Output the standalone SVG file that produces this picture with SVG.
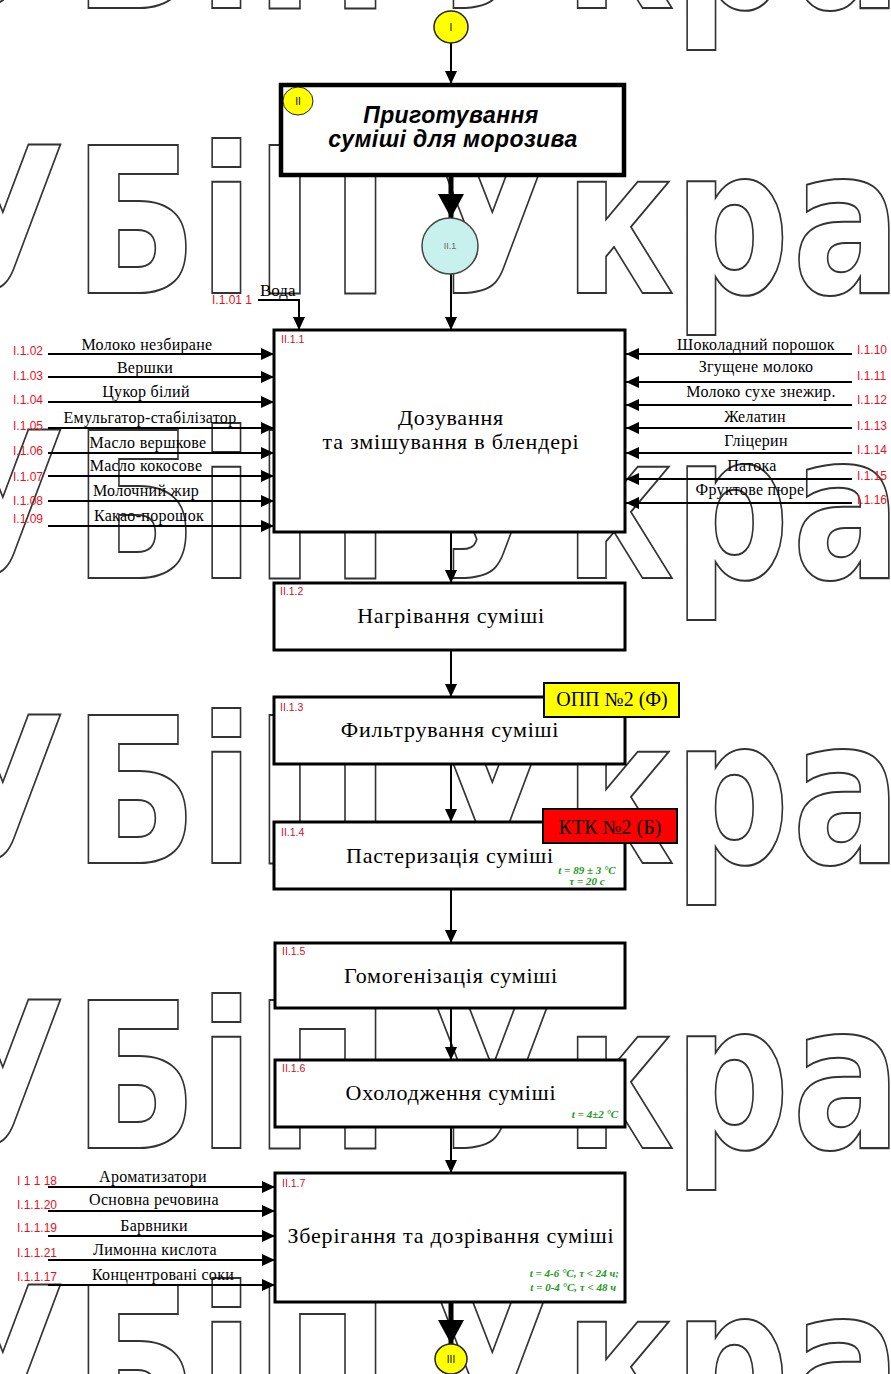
<svg xmlns="http://www.w3.org/2000/svg" xmlns:xlink="http://www.w3.org/1999/xlink" width="891" height="1374" viewBox="0 0 891 1374">
<style>
.wm{font-family:"DejaVu Sans",sans-serif;font-weight:bold;font-size:203px;fill:#fff;stroke:#333;stroke-width:2}
.box{fill:#fff;stroke:#000;stroke-width:3}
.lbl{font-family:"Liberation Serif",serif;font-size:22px;letter-spacing:0.8px;fill:#000;text-anchor:middle}
.tag{font-family:"Liberation Serif",serif;font-size:20px;fill:#000;text-anchor:middle}
.in{font-family:"Liberation Serif",serif;font-size:16px;letter-spacing:0.3px;fill:#000;text-anchor:middle}
.code{font-family:"Liberation Sans",sans-serif;font-size:10.5px;fill:#c8102e}
.icode{font-family:"Liberation Sans",sans-serif;font-size:12px;fill:#e8101e}
.grn{font-family:"Liberation Serif",serif;font-size:11px;font-weight:bold;font-style:italic;fill:#1a9a1a}
.ttl{font-family:"Liberation Sans",sans-serif;font-size:23px;font-weight:bold;font-style:italic;letter-spacing:0.4px;text-anchor:middle}
.ln{stroke:#000;stroke-width:2;fill:none}
</style>
<defs>
<marker id="arr" markerUnits="userSpaceOnUse" markerWidth="14" markerHeight="12" refX="13" refY="6" orient="auto">
<path d="M0,0 L13,6 L0,12 z" fill="#000"/>
</marker>
<marker id="big" markerUnits="userSpaceOnUse" markerWidth="26" markerHeight="26" refX="24" refY="13" orient="auto">
<path d="M0,0 L24,13 L0,26 z" fill="#000"/>
</marker>
<g id="wmrow" transform="scale(0.8,1)">
<text class="wm" x="-245 -75 92 248 318 480 537 705 842 990">НУБіП України</text>
</g>
</defs>
<rect width="891" height="1374" fill="#fff"/>
<g id="watermark">
<use xlink:href="#wmrow" y="8"/>
<use xlink:href="#wmrow" y="293"/>
<use xlink:href="#wmrow" y="578"/>
<use xlink:href="#wmrow" y="863"/>
<use xlink:href="#wmrow" y="1148"/>
<use xlink:href="#wmrow" y="1433"/>
</g>
<g id="connectors">
<line class="ln" x1="451" y1="43" x2="451" y2="84" marker-end="url(#arr)"/>
<line x1="451" y1="175" x2="451" y2="218" stroke="#000" stroke-width="5" marker-end="url(#big)"/>
<line class="ln" x1="451" y1="274" x2="451" y2="330" marker-end="url(#arr)"/>
<polyline class="ln" points="258,300 299,300 299,330" marker-end="url(#arr)"/>
<line class="ln" x1="48" y1="354" x2="274" y2="354" marker-end="url(#arr)"/>
<line class="ln" x1="48" y1="377" x2="274" y2="377" marker-end="url(#arr)"/>
<line class="ln" x1="48" y1="402" x2="274" y2="402" marker-end="url(#arr)"/>
<line class="ln" x1="48" y1="428" x2="274" y2="428" marker-end="url(#arr)"/>
<line class="ln" x1="48" y1="453" x2="274" y2="453" marker-end="url(#arr)"/>
<line class="ln" x1="48" y1="476" x2="274" y2="476" marker-end="url(#arr)"/>
<line class="ln" x1="48" y1="501" x2="274" y2="501" marker-end="url(#arr)"/>
<line class="ln" x1="48" y1="526" x2="274" y2="526" marker-end="url(#arr)"/>
<line class="ln" x1="852" y1="354" x2="626" y2="354" marker-end="url(#arr)"/>
<line class="ln" x1="852" y1="382" x2="626" y2="382" marker-end="url(#arr)"/>
<line class="ln" x1="852" y1="405" x2="626" y2="405" marker-end="url(#arr)"/>
<line class="ln" x1="852" y1="428" x2="626" y2="428" marker-end="url(#arr)"/>
<line class="ln" x1="852" y1="453" x2="626" y2="453" marker-end="url(#arr)"/>
<line class="ln" x1="852" y1="479" x2="626" y2="479" marker-end="url(#arr)"/>
<line class="ln" x1="852" y1="503" x2="626" y2="503" marker-end="url(#arr)"/>
<line class="ln" x1="451" y1="533" x2="451" y2="583" marker-end="url(#arr)"/>
<line class="ln" x1="451" y1="650" x2="451" y2="697" marker-end="url(#arr)"/>
<line class="ln" x1="451" y1="764" x2="451" y2="822" marker-end="url(#arr)"/>
<line class="ln" x1="451" y1="889" x2="451" y2="943" marker-end="url(#arr)"/>
<line class="ln" x1="451" y1="1008" x2="451" y2="1060" marker-end="url(#arr)"/>
<line class="ln" x1="451" y1="1127" x2="451" y2="1173" marker-end="url(#arr)"/>
<line class="ln" x1="48" y1="1187" x2="275" y2="1187" marker-end="url(#arr)"/>
<line class="ln" x1="48" y1="1211" x2="275" y2="1211" marker-end="url(#arr)"/>
<line class="ln" x1="48" y1="1236" x2="275" y2="1236" marker-end="url(#arr)"/>
<line class="ln" x1="48" y1="1260" x2="275" y2="1260" marker-end="url(#arr)"/>
<line class="ln" x1="48" y1="1285" x2="275" y2="1285" marker-end="url(#arr)"/>
<line x1="451" y1="1302" x2="451" y2="1344" stroke="#000" stroke-width="5" marker-end="url(#big)"/>
</g>
<g id="inputs">
<text class="icode" x="212" y="304" font-size="11">I.1.01 1</text>
<text x="260" y="296" font-family="Liberation Serif" font-size="17">Вода</text>
<text class="icode" x="13" y="355">I.1.02</text><text class="in" x="147" y="350">Молоко незбиране</text>
<text class="icode" x="13" y="380">I.1.03</text><text class="in" x="145" y="373">Вершки</text>
<text class="icode" x="13" y="404">I.1.04</text><text class="in" x="146" y="397">Цукор білий</text>
<text class="icode" x="13" y="430">I.1.05</text><text class="in" x="150" y="423">Емульгатор-стабілізатор</text>
<text class="icode" x="13" y="455">I.1.06</text><text class="in" x="148" y="448">Масло вершкове</text>
<text class="icode" x="13" y="481">I.1.07</text><text class="in" x="146" y="471">Масло кокосове</text>
<text class="icode" x="13" y="505">I.1.08</text><text class="in" x="146" y="496">Молочний жир</text>
<text class="icode" x="13" y="523">I.1.09</text><text class="in" x="149" y="521">Какао-порошок</text>
<text class="icode" x="857" y="354">I.1.10</text><text class="in" x="756" y="350">Шоколадний порошок</text>
<text class="icode" x="857" y="380">I.1.11</text><text class="in" x="756" y="372">Згущене молоко</text>
<text class="icode" x="857" y="404">I.1.12</text><text class="in" x="761" y="397">Молоко сухе знежир.</text>
<text class="icode" x="857" y="430">I.1.13</text><text class="in" x="755" y="422">Желатин</text>
<text class="icode" x="857" y="454">I.1.14</text><text class="in" x="756" y="446">Гліцерин</text>
<text class="icode" x="857" y="480">I.1.15</text><text class="in" x="752" y="471">Патока</text>
<text class="icode" x="857" y="504">I.1.16</text><text class="in" x="750" y="495">Фруктове пюре</text>
<text class="icode" x="17" y="1185">I 1 1 18</text><text class="in" x="153" y="1182">Ароматизатори</text>
<text class="icode" x="17" y="1209">I.1.1.20</text><text class="in" x="154" y="1205">Основна речовина</text>
<text class="icode" x="17" y="1232">I.1.1.19</text><text class="in" x="154" y="1231">Барвники</text>
<text class="icode" x="17" y="1257">I.1.1.21</text><text class="in" x="155" y="1255">Лимонна кислота</text>
<text class="icode" x="17" y="1281">I.1.1.17</text><text class="in" x="163" y="1280">Концентровані соки</text>
</g>
<g id="node-I">
<ellipse cx="451" cy="27" rx="17" ry="16" fill="#ffff00" stroke="#222" stroke-width="1.5"/>
<text x="451" y="31" font-family="Liberation Sans" font-size="10" text-anchor="middle">I</text>
</g>
<g id="node-II">
<rect x="281" y="85" width="343" height="90" fill="#fff" stroke="#000" stroke-width="4.5"/>
<ellipse cx="298" cy="101" rx="15" ry="14" fill="#ffff00" stroke="#222" stroke-width="1"/>
<text x="298" y="105" font-family="Liberation Sans" font-size="10" text-anchor="middle">II</text>
<text class="ttl" x="451" y="123">Приготування</text>
<text class="ttl" x="453" y="147">суміші для морозива</text>
</g>
<g id="node-II.1">
<ellipse cx="450" cy="246" rx="28" ry="28" fill="#c8f1ee" stroke="#444" stroke-width="1.5"/>
<text x="450" y="249" font-family="Liberation Sans" font-size="9" fill="#666" text-anchor="middle">II.1</text>
</g>
<g id="node-II.1.1">
<rect class="box" x="274" y="330" width="351" height="202"/>
<text class="code" x="281" y="343">II.1.1</text>
<text class="lbl" x="451" y="425">Дозування</text>
<text class="lbl" x="451" y="449">та змішування в блендері</text>
</g>
<g id="node-II.1.2">
<rect class="box" x="274" y="583" width="351" height="67"/>
<text class="code" x="280" y="595">II.1.2</text>
<text class="lbl" x="451" y="623">Нагрівання суміші</text>
</g>
<g id="node-II.1.3">
<rect class="box" x="274" y="697" width="351" height="67"/>
<text class="code" x="280" y="711">II.1.3</text>
<text class="lbl" x="450" y="737">Фильтрування суміші</text>
<rect x="544" y="683" width="135" height="34" fill="#ffff00" stroke="#000" stroke-width="2"/>
<text class="tag" x="612" y="706">ОПП №2 (Ф)</text>
</g>
<g id="node-II.1.4">
<rect class="box" x="274" y="822" width="351" height="67"/>
<text class="code" x="281" y="836">II.1.4</text>
<text class="lbl" x="450" y="863">Пастеризація суміші</text>
<text class="grn" x="587" y="874" text-anchor="middle">t = 89 ± 3 °C</text>
<text class="grn" x="587" y="885" text-anchor="middle">τ = 20 с</text>
<rect x="543" y="809" width="134" height="34" fill="#ff0000" stroke="#000" stroke-width="2"/>
<text class="tag" x="610" y="834">КТК №2 (Б)</text>
</g>
<g id="node-II.1.5">
<rect class="box" x="275" y="943" width="350" height="65"/>
<text class="code" x="282" y="955">II.1.5</text>
<text class="lbl" x="451" y="983">Гомогенізація суміші</text>
</g>
<g id="node-II.1.6">
<rect class="box" x="275" y="1060" width="350" height="67"/>
<text class="code" x="282" y="1072">II.1.6</text>
<text class="lbl" x="451" y="1100">Охолодження суміші</text>
<text class="grn" x="595" y="1118" text-anchor="middle">t = 4±2 °C</text>
</g>
<g id="node-II.1.7">
<rect class="box" x="275" y="1173" width="350" height="129"/>
<text class="code" x="282" y="1187">II.1.7</text>
<text class="lbl" x="451" y="1243">Зберігання та дозрівання суміші</text>
<text class="grn" x="619" y="1277" text-anchor="end">t = 4-6 °C, τ &lt; 24 ч;</text>
<text class="grn" x="616" y="1291" text-anchor="end">t = 0-4 °C, τ &lt; 48 ч</text>
</g>
<g id="node-III">
<ellipse cx="451" cy="1359" rx="16" ry="15" fill="#ffff00" stroke="#222" stroke-width="1.5"/>
<text x="451" y="1363" font-family="Liberation Sans" font-size="10" text-anchor="middle">III</text>
</g>
</svg>
